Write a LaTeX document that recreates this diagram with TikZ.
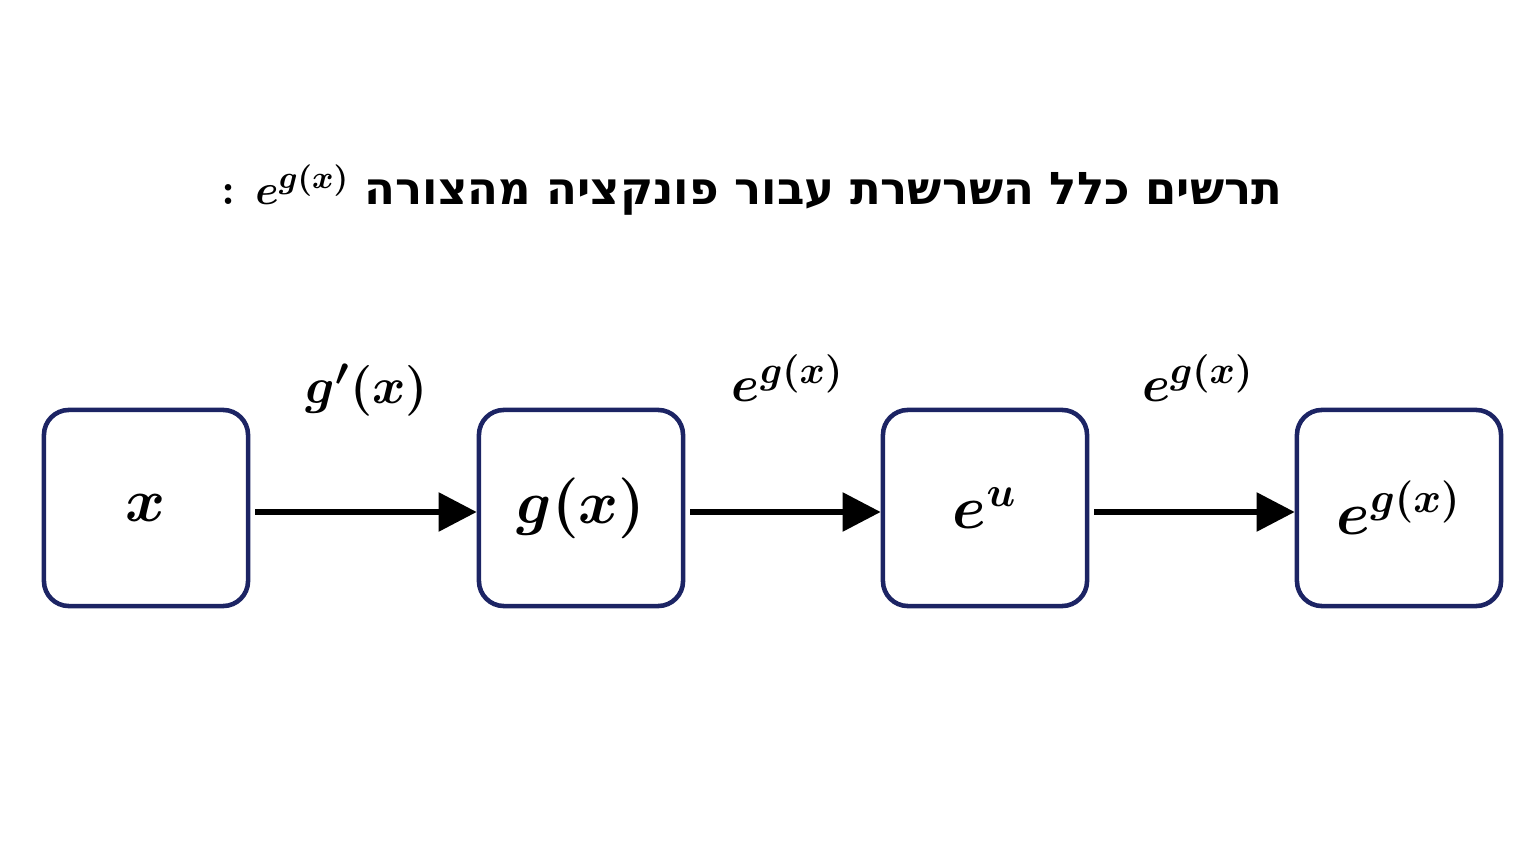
\documentclass[tikz,border=0pt]{standalone}
\usepackage{fontspec}
\usepackage{amsmath}
\usetikzlibrary{arrows.meta}
\newfontfamily\hebfont[Script=Hebrew]{DejaVu Sans}
\TeXXeTstate=1
\newcommand\hebtitle{{\hebfont\bfseries\beginR תרשים כלל השרשרת עבור פונקציה מהצורה\endR}}
\definecolor{navy}{RGB}{28,36,100}
\begin{document}
\begin{tikzpicture}[x=0.01cm,y=-0.01cm,
  box/.style={draw=navy,line width=1.3pt,rounded corners=0.25cm,minimum width=2.04cm,minimum height=1.96cm,font=\fontsize{18}{22}\selectfont\boldmath},
  arr/.style={line width=1.6pt,-{Triangle[length=0.38cm,width=0.38cm]}},
  lab/.style={font=\fontsize{15.5}{19}\selectfont\boldmath}]
\useasboundingbox (0,0) rectangle (1536,864);
\node[font=\fontsize{12.8}{16}\selectfont\boldmath] (title) at (752,190) {\textbf{:} $e^{g(x)}$\ \hebtitle};
\node[box] (a) at (146,508) {$x$};
\node[box] (b) at (581,508) {$g(x)$};
\node[box] (c) at (985,508) {$e^{u}$};
\node[box] (d) at (1399,508) {$e^{g(x)}$};
\draw[arr] ([xshift=0.05cm,yshift=-0.04cm]a.east) -- ([yshift=-0.04cm]b.west);
\draw[arr] ([xshift=0.05cm,yshift=-0.04cm]b.east) -- ([yshift=-0.04cm]c.west);
\draw[arr] ([xshift=0.05cm,yshift=-0.04cm]c.east) -- ([yshift=-0.04cm]d.west);
\node[lab] (l1) at (367,390) {$g'(x)$};
\node[lab] (l2) at (788,378) {$e^{g(x)}$};
\node[lab] (l3) at (1198,378) {$e^{g(x)}$};
\end{tikzpicture}
\end{document}
